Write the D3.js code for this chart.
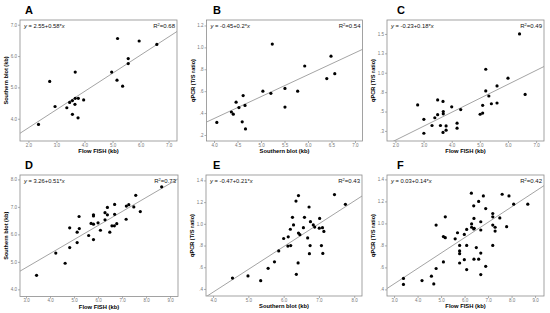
<!DOCTYPE html>
<html>
<head>
<script src="https://d3js.org/d3.v7.min.js"></script>
<style>
  body { margin: 0; background: #fff; }
  text { font-family: "Liberation Sans", Arial, sans-serif; }
</style>
</head>
<body>
<script>
// ---- data ----
var aX = [5.18, 5.95, 6.58, 5.56, 5.56, 4.97, 3.67, 2.76, 5.16, 5.36, 2.95, 3.37, 3.47, 3.57, 3.67, 3.78, 3.97, 3.66, 3.57, 3.77, 2.36];
var aY = [6.56, 6.48, 6.37, 5.92, 5.76, 5.49, 5.49, 5.19, 5.23, 5.04, 4.39, 4.35, 4.52, 4.58, 4.65, 4.65, 4.60, 4.46, 4.14, 4.03, 3.82];

var bX = [4.06, 4.37, 4.41, 4.47, 4.53, 4.62, 4.66, 4.60, 4.67, 5.04, 5.21, 5.24, 5.51, 5.51, 5.78, 5.93, 6.40, 6.49, 6.57];
var bY = [0.315, 0.41, 0.39, 0.50, 0.45, 0.56, 0.47, 0.32, 0.255, 0.60, 0.58, 1.03, 0.625, 0.455, 0.60, 0.83, 0.715, 0.92, 0.76];

var cX = [2.79, 3.01, 3.01, 3.30, 3.40, 3.50, 3.50, 3.60, 3.69, 3.70, 3.70, 3.69, 3.80, 3.80, 4.00, 4.19, 4.19, 4.32, 5.01, 5.10, 5.10, 5.21, 5.21, 5.32, 5.41, 5.61, 5.61, 6.00, 6.41, 6.61];
var cY = [0.585, 0.40, 0.22, 0.32, 0.42, 0.46, 0.65, 0.32, 0.63, 0.50, 0.47, 0.23, 0.315, 0.26, 0.56, 0.35, 0.285, 0.525, 0.465, 0.48, 0.58, 0.765, 1.045, 0.70, 0.60, 0.61, 0.83, 0.93, 1.50, 0.72];

var dX = [3.44, 4.24, 4.63, 4.82, 4.82, 5.13, 5.13, 5.21, 5.22, 5.61, 5.71, 5.81, 5.81, 5.81, 5.81, 6.00, 6.10, 6.29, 6.29, 6.39, 6.39, 6.49, 6.58, 6.68, 6.69, 6.69, 6.78, 7.17, 7.18, 7.28, 7.49, 7.57, 7.76, 8.65];
var dY = [4.51, 5.32, 4.95, 5.52, 6.24, 6.08, 5.70, 6.65, 6.21, 5.96, 6.40, 6.71, 6.67, 6.37, 5.81, 6.42, 6.15, 6.53, 6.79, 6.98, 6.71, 6.08, 6.31, 6.31, 7.09, 6.73, 6.39, 6.55, 7.03, 7.08, 7.00, 7.42, 6.83, 7.73];

var eX = [4.55, 4.99, 5.35, 5.56, 5.74, 5.86, 6.00, 6.12, 6.13, 6.20, 6.19, 6.25, 6.28, 6.35, 6.36, 6.41, 6.42, 6.42, 6.46, 6.56, 6.59, 6.68, 6.72, 6.73, 6.75, 6.76, 6.84, 6.88, 7.01, 7.02, 7.07, 7.10, 7.11, 7.14, 7.44, 7.75];
var eY = [0.50, 0.52, 0.476, 0.59, 0.65, 0.75, 0.865, 0.795, 0.88, 0.80, 0.95, 1.06, 0.99, 1.21, 0.535, 0.64, 1.26, 0.915, 0.90, 0.965, 1.06, 0.87, 1.155, 0.725, 0.80, 1.02, 0.99, 0.97, 0.96, 1.05, 0.80, 0.965, 0.727, 0.93, 1.27, 1.18];

var fX = [3.40, 3.40, 4.19, 4.59, 4.69, 4.79, 4.79, 5.10, 5.10, 5.18, 5.18, 5.60, 5.70, 5.79, 5.79, 5.79, 5.79, 5.99, 5.99, 6.09, 6.09, 6.09, 6.29, 6.30, 6.30, 6.39, 6.39, 6.40, 6.40, 6.41, 6.50, 6.60, 6.60, 6.69, 6.69, 6.69, 6.69, 6.80, 6.90, 6.90, 7.20, 7.20, 7.20, 7.20, 7.30, 7.30, 7.50, 7.60, 7.79, 7.89, 8.09, 8.69];
var fY = [0.50, 0.445, 0.48, 0.52, 0.45, 0.59, 0.985, 0.65, 0.88, 0.87, 1.06, 0.86, 0.915, 0.80, 0.75, 0.725, 0.64, 0.90, 0.67, 0.945, 0.80, 0.58, 1.275, 0.995, 0.965, 0.95, 1.16, 1.045, 0.675, 0.955, 0.78, 0.675, 1.20, 1.015, 0.94, 0.73, 0.535, 1.25, 1.135, 0.61, 1.09, 1.06, 0.985, 0.80, 0.965, 0.93, 1.05, 1.265, 0.97, 1.25, 1.175, 1.175];

// regression coefficients [intercept, slope], equation text and R²
var fits = {
  A: [2.55, 0.58], B: [-0.45, 0.2], C: [-0.23, 0.18],
  D: [3.26, 0.51], E: [-0.47, 0.21], F: [0.03, 0.14]
};
var eqText = {
  A: " = 2.55+0.58*", B: " = -0.45+0.2*", C: " = -0.23+0.18*",
  D: " = 3.26+0.51*", E: " = -0.47+0.21*", F: " = 0.03+0.14*"
};
var r2Text = { A: "0.68", B: "0.54", C: "0.49", D: "0.73", E: "0.43", F: "0.42" };

// tick values and their labels
var ticks27 = [2, 3, 4, 5, 6, 7], labels27 = ["2.0", "3.0", "4.0", "5.0", "6.0", "7.0"];
var ticks39 = [3, 4, 5, 6, 7, 8, 9], labels39 = ["3.0", "4.0", "5.0", "6.0", "7.0", "8.0", "9.0"];
var ticksB_x = [4, 4.5, 5, 5.5, 6, 6.5, 7], labelsB_x = ["4.0", "4.5", "5.0", "5.5", "6.0", "6.5", "7.0"];
var ticksE_x = [4, 5, 6, 7, 8], labelsE_x = ["4.0", "5.0", "6.0", "7.0", "8.0"];
var ticksA_y = [4, 5, 6, 7], labelsA_y = ["4.0", "5.0", "6.0", "7.0"];
var ticksD_y = [4, 5, 6, 7, 8], labelsD_y = ["4.0", "5.0", "6.0", "7.0", "8.0"];
var ticksB_y = [0.2, 0.4, 0.6, 0.8, 1.0, 1.2], labelsB_y = [".2", ".4", ".6", ".8", "1.0", "1.2"];
var ticksC_y = [0.25, 0.5, 0.75, 1.0, 1.25, 1.5], labelsC_y = [".3", ".5", ".8", "1.0", "1.3", "1.5"];
var ticksEF_y = [0.4, 0.6, 0.8, 1.0, 1.2, 1.4], labelsEF_y = [".4", ".6", ".8", "1.0", "1.2", "1.4"];

var fishTitle = "Flow FISH (kb)", sbTitle = "Southern blot (kb)", qpcrTitle = "qPCR (T/S ratio)";

// ---- layout ----
var panels = [
  {id: "A", xs: aX, ys: aY, box: [20, 20, 177, 141], xd: [1.7, 7.3], yd: [3.29, 7.15],
   xt: ticks27, xl: labels27, yt: ticksA_y, yl: labelsA_y, xTitle: fishTitle, yTitle: sbTitle, lx: 25, ly: 14},
  {id: "B", xs: bX, ys: bY, box: [206.5, 20, 362.5, 141], xd: [3.84, 7.16], yd: [0.145, 1.25],
   xt: ticksB_x, xl: labelsB_x, yt: ticksB_y, yl: labelsB_y, xTitle: sbTitle, yTitle: qpcrTitle, lx: 213, ly: 14},
  {id: "C", xs: cX, ys: cY, box: [387, 20, 544, 141], xd: [1.7, 7.28], yd: [0.12, 1.68],
   xt: ticks27, xl: labels27, yt: ticksC_y, yl: labelsC_y, xTitle: fishTitle, yTitle: qpcrTitle, lx: 397, ly: 14},
  {id: "D", xs: dX, ys: dY, box: [20, 175, 178, 296.5], xd: [2.75, 9.33], yd: [3.74, 8.16],
   xt: ticks39, xl: labels39, yt: ticksD_y, yl: labelsD_y, xTitle: fishTitle, yTitle: sbTitle, lx: 25, ly: 169},
  {id: "E", xs: eX, ys: eY, box: [206, 175, 362, 296], xd: [3.8, 8.22], yd: [0.335, 1.45],
   xt: ticksE_x, xl: labelsE_x, yt: ticksEF_y, yl: labelsEF_y, xTitle: sbTitle, yTitle: qpcrTitle, lx: 213, ly: 169},
  {id: "F", xs: fX, ys: fY, box: [387, 175, 544, 296], xd: [2.7, 9.38], yd: [0.34, 1.44],
   xt: ticks39, xl: labels39, yt: ticksEF_y, yl: labelsEF_y, xTitle: fishTitle, yTitle: qpcrTitle, lx: 397, ly: 169}
];

var svg = d3.select("body").append("svg")
    .attr("width", 550)
    .attr("height", 313);
svg.append("rect").attr("width", 550).attr("height", 313).attr("fill", "#fff");

panels.forEach(function(p) {
  var l = p.box[0], t = p.box[1], r = p.box[2], b = p.box[3];
  var x = d3.scaleLinear().domain(p.xd).range([l, r]);
  var y = d3.scaleLinear().domain(p.yd).range([b, t]);
  var g = svg.append("g");

  // clip for the fit line
  g.append("clipPath").attr("id", "clip" + p.id)
    .append("rect").attr("x", l).attr("y", t).attr("width", r - l).attr("height", b - t);

  // frame
  g.append("rect")
      .attr("x", l).attr("y", t).attr("width", r - l).attr("height", b - t)
      .attr("fill", "none").attr("stroke", "#8c8c8c").attr("stroke-width", 0.8);

  // axes
  var xAxis = d3.axisBottom(x).tickValues(p.xt).tickSize(2).tickPadding(1)
      .tickFormat(function(d, i) { return p.xl[i]; });
  var yAxis = d3.axisLeft(y).tickValues(p.yt).tickSize(2).tickPadding(1)
      .tickFormat(function(d, i) { return p.yl[i]; });
  var gx = g.append("g").attr("transform", "translate(0," + b + ")").call(xAxis);
  var gy = g.append("g").attr("transform", "translate(" + l + ",0)").call(yAxis);
  [gx, gy].forEach(function(a) {
    a.select(".domain").remove();
    a.selectAll("line").attr("stroke", "#8c8c8c").attr("stroke-width", 0.7);
    a.selectAll("text").attr("fill", "#777").style("font-size", "4.5px")
      .style("font-family", '"Liberation Sans", Arial, sans-serif');
  });
  gx.selectAll("text").attr("dy", "0.6em");

  // fit line
  var c = fits[p.id];
  g.append("line")
      .attr("clip-path", "url(#clip" + p.id + ")")
      .attr("x1", x(p.xd[0])).attr("y1", y(c[0] + c[1] * p.xd[0]))
      .attr("x2", x(p.xd[1])).attr("y2", y(c[0] + c[1] * p.xd[1]))
      .attr("stroke", "#9a9a9a").attr("stroke-width", 0.9);

  // points
  g.selectAll("circle.pt").data(p.xs).enter().append("circle")
      .attr("class", "pt")
      .attr("cx", function(d) { return x(d); })
      .attr("cy", function(d, i) { return y(p.ys[i]); })
      .attr("r", 1.6)
      .attr("fill", "#000");

  // equation and R²
  var eq = g.append("text").attr("x", l + 4).attr("y", t + 8)
      .style("font-size", "5.8px").attr("fill", "#111");
  eq.append("tspan").style("font-style", "italic").text("y");
  eq.append("tspan").text(eqText[p.id]);
  eq.append("tspan").style("font-style", "italic").text("x");

  var rt = g.append("text").attr("x", r - 2).attr("y", t + 8)
      .attr("text-anchor", "end").style("font-size", "6px").attr("fill", "#111");
  rt.append("tspan").text("R");
  rt.append("tspan").attr("dy", -2).style("font-size", "4px").text("2");
  rt.append("tspan").attr("dy", 2).text("=" + r2Text[p.id]);

  // axis titles
  g.append("text").attr("x", (l + r) / 2).attr("y", b + 12)
      .attr("text-anchor", "middle").style("font-size", "5.8px").style("font-weight", "bold")
      .text(p.xTitle);
  g.append("text")
      .attr("transform", "translate(" + (l - 12) + "," + ((t + b) / 2) + ") rotate(-90)")
      .attr("text-anchor", "middle").style("font-size", "5.6px").style("font-weight", "bold")
      .text(p.yTitle);

  // panel letter
  g.append("text").attr("x", p.lx).attr("y", p.ly)
      .style("font-size", "11px").style("font-weight", "bold")
      .text(p.id);
});
</script>
</body>
</html>
